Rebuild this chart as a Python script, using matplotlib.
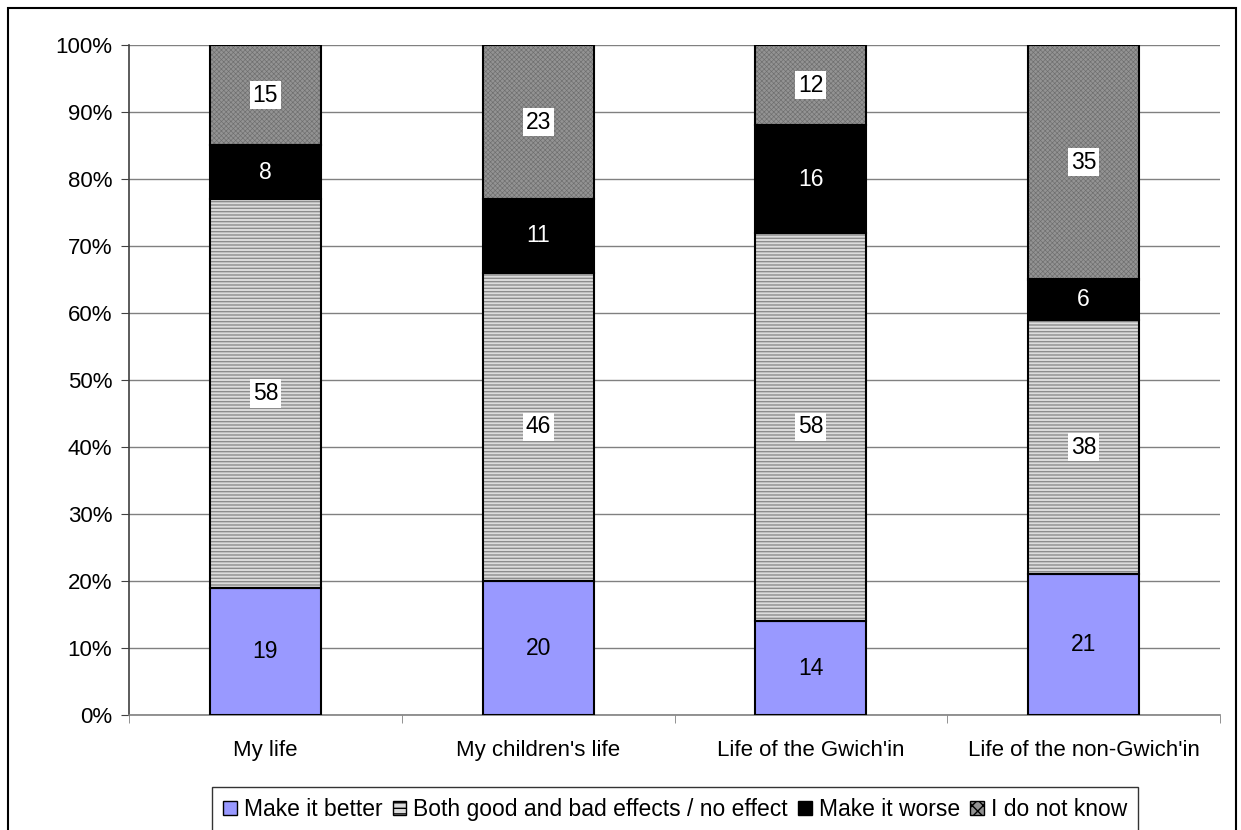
import matplotlib
matplotlib.use("Agg")
import matplotlib.pyplot as plt
from matplotlib.patches import Rectangle, Patch
import numpy as np

plt.rcParams['font.family'] = ['Liberation Sans', 'DejaVu Sans']

# opinion data (percent of respondents)
categories = ["My life", "My children's life", "Life of the Gwich'in", "Life of the non-Gwich'in"]
better = [19, 20, 14, 21]
mixed = [58, 46, 58, 38]
worse = [8, 11, 16, 6]
dont_know = [15, 23, 12, 35]
series_names = ["Make it better", "Both good and bad effects / no effect", "Make it worse", "I do not know"]

series = [better, mixed, worse, dont_know]
faces = ['#9999ff', '#dcdcdc', '#000000', '#939393']
hatches = [None, '-----', None, 'xxxxxxx']
hatch_cols = [None, '#8c8c8c', None, '#6e6e6e']
hatch_lw = [1.0, 1.0, 1.0, 0.45]
txt_cols = ['black', 'black', 'white', 'black']
boxed = [False, True, False, True]

fig = plt.figure(figsize=(12.41, 8.30), dpi=100)
ax = fig.add_axes([129 / 1241, 1 - 715 / 830, 1091 / 1241, 670 / 830])

x = np.arange(len(categories))
width = 0.407
bottom = np.zeros(len(categories))
for vals, fc, h, hc, hlw, tc, bx in zip(series, faces, hatches, hatch_cols, hatch_lw, txt_cols, boxed):
    vals = np.array(vals, dtype=float)
    if h:
        plt.rcParams['hatch.linewidth'] = hlw
        ax.bar(x, vals, width, bottom=bottom, color=fc, hatch=h, edgecolor=hc, linewidth=0, zorder=2)
        ax.bar(x, vals, width, bottom=bottom, fill=False, edgecolor='black', linewidth=1.5, zorder=3)
    else:
        ax.bar(x, vals, width, bottom=bottom, color=fc, edgecolor='black', linewidth=1.5, zorder=3)
    for xi, b, v in zip(x, bottom, vals):
        bbox = dict(facecolor='white', edgecolor='none', pad=2) if bx else None
        ax.text(xi, b + v / 2, f"{int(v)}", ha='center', va='center', fontsize=16.5,
                color=tc, bbox=bbox, zorder=4)
    bottom += vals
plt.rcParams['hatch.linewidth'] = 1.0

ax.set_xlim(-0.5, len(categories) - 0.5)
ax.set_ylim(0, 100)
ax.set_yticks(np.arange(0, 101, 10))
ax.set_yticklabels([f"{v}%" for v in range(0, 101, 10)], fontsize=16)
ax.yaxis.grid(True, color='#808080', linewidth=1, zorder=0)
ax.set_axisbelow(True)

ax.set_xticks(x)
ax.set_xticklabels(categories, fontsize=16)
ax.tick_params(axis='x', length=0, pad=18)
ax.set_xticks(np.arange(-0.5, len(categories)), minor=True)
ax.tick_params(axis='x', which='minor', length=6, color='#808080', direction='out')
ax.tick_params(axis='y', length=6, color='#404040', direction='out', pad=6)

for s in ['top', 'right']:
    ax.spines[s].set_visible(False)
ax.spines['left'].set_color('#404040')
ax.spines['bottom'].set_color('#808080')
ax.spines['left'].set_linewidth(1.2)
ax.spines['bottom'].set_linewidth(1.2)

handles = []
for fc, h, hc in zip(faces, hatches, hatch_cols):
    if h:
        handles.append(Patch(facecolor=fc, hatch=h[:3], edgecolor='black', linewidth=1))
    else:
        handles.append(Patch(facecolor=fc, edgecolor='black', linewidth=1))
leg = fig.legend(handles, series_names, loc='lower center', bbox_to_anchor=(675 / 1241, -0.017),
                 ncol=4, fontsize=16.5, frameon=True, fancybox=False, handlelength=0.6,
                 handleheight=0.6, handletextpad=0.3, columnspacing=0.45, borderpad=0.5)
leg.get_frame().set_edgecolor('black')
leg.get_frame().set_linewidth(1)

# outer frame around the chart
fig.patches.append(Rectangle((8 / 1241, -0.01), 1228 / 1241, 1 - 8 / 830 + 0.01,
                             transform=fig.transFigure, fill=False, edgecolor='black', linewidth=1.5))

fig.savefig("out.png", dpi=100)
